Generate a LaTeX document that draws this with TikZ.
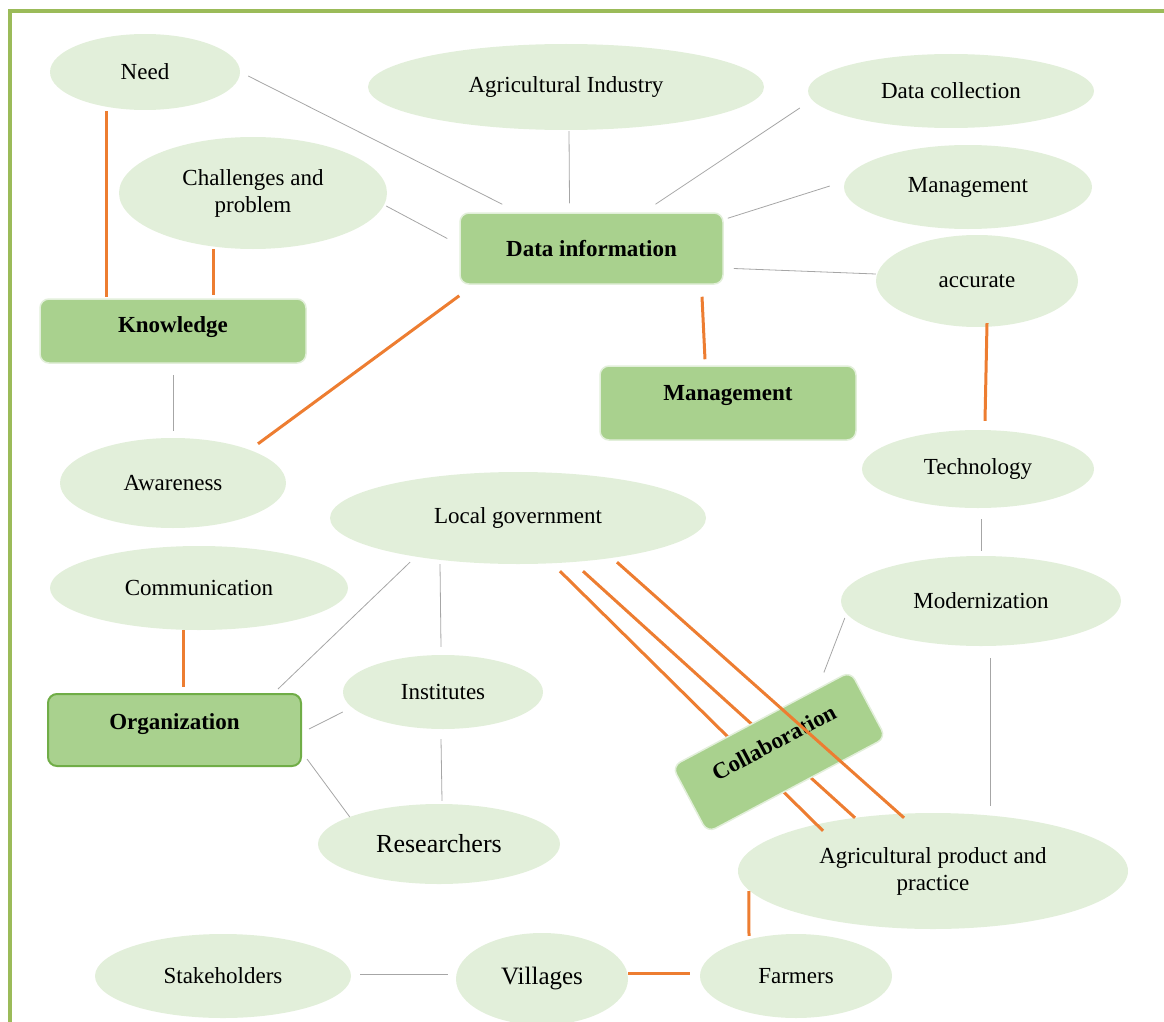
\documentclass[tikz,border=0pt]{standalone}
\usepackage{fontspec}
\setmainfont{Liberation Serif}
\usetikzlibrary{calc, shapes.geometric, positioning}

\definecolor{ellfill}{HTML}{E2EFDA}
\definecolor{boxfill}{HTML}{A9D18E}
\definecolor{boxedge}{HTML}{E2EFDA}
\definecolor{orgedge}{HTML}{70AD47}
\definecolor{linor}{HTML}{ED7D31}
\definecolor{lineg}{HTML}{A6A6A6}
\definecolor{frameg}{HTML}{9BBB59}

\begin{document}
\begin{tikzpicture}[x=1pt, y=-1pt,
    every node/.style={font=\fontsize{23}{27}\selectfont},
    ell/.style={ellipse, fill=ellfill, inner sep=0pt, align=center},
    box/.style={rectangle, rounded corners=9pt, fill=boxfill, draw=boxedge, line width=1.5pt,
                inner sep=0pt, font=\fontsize{23}{27}\selectfont\bfseries},
    lift/.style={text depth=#1},
    gline/.style={draw=lineg, line width=0.8pt},
    oline/.style={draw=linor, line width=3pt}]
    \useasboundingbox (0,0) rectangle (1164,1022);
    \draw[frameg, line width=3.6pt] (10,1022) -- (10,11) -- (1164,11);

    % ellipses
    \node[ell, minimum width=190, minimum height=76] (need) at (145,72) {Need};
    \node[ell, minimum width=396, minimum height=86] (aind) at (566,87) {Agricultural Industry};
    \node[ell, minimum width=286, minimum height=74] (dcoll) at (951,91) {Data collection};
    \node[ell, minimum width=268, minimum height=112] (chal) at (253,193) {Challenges and\\problem};
    \node[ell, minimum width=248, minimum height=84] (mgmte) at (968,187) {Management};
    \node[ell, minimum width=202, minimum height=92] (accur) at (977,281) {accurate};
    \node[ell, minimum width=226, minimum height=90] (aware) at (173,483) {Awareness};
    \node[ell, minimum width=376, minimum height=92] (locgov) at (518,518) {Local government};
    \node[ell, minimum width=232, minimum height=78] (tech) at (978,469) {Technology};
    \node[ell, minimum width=298, minimum height=84] (comm) at (199,588) {Communication};
    \node[ell, minimum width=280, minimum height=90] (modern) at (981,601) {Modernization};
    \node[ell, minimum width=200, minimum height=74] (inst) at (443,692) {Institutes};
    \node[ell, minimum width=242, minimum height=80, font=\fontsize{26}{30}\selectfont] (res) at (439,844) {Researchers};
    \node[ell, minimum width=390, minimum height=116] (apro) at (933,871) {Agricultural product and\\practice};
    \node[ell, minimum width=256, minimum height=84] (stake) at (223,976) {Stakeholders};
    \node[ell, minimum width=172, minimum height=92, font=\fontsize{25}{29}\selectfont] (vill) at (542,979) {Villages};
    \node[ell, minimum width=192, minimum height=84] (farm) at (796,976) {Farmers};

    % boxes
    \node[box, minimum width=263, minimum height=71] (datainfo) at (591.5,248.5) {Data information};
    \node[box, lift=13pt, minimum width=266, minimum height=64] (knowl) at (173,331) {Knowledge};
    \node[box, lift=21pt, minimum width=256, minimum height=74] (mgmtb) at (728,403) {Management};
    \node[box, lift=17pt, draw=orgedge, line width=2pt, minimum width=253, minimum height=72] (org) at (174.5,730) {Organization};

    % grey links
    \draw[gline] ($(need.east)+(8,4)$) -- ($(datainfo.north west)+(43,-8)$);
    \draw[gline] ($(aind.south)+(3,1)$) -- ($(datainfo.north)+(-22,-9)$);
    \draw[gline] ($(dcoll.west)+(-8,17)$) -- ($(datainfo.north)+(64,-8)$);
    \draw[gline] ($(chal.east)+(-1,13)$) -- ($(datainfo.west)+(-12,-10)$);
    \draw[gline] ($(mgmte.west)+(-14,-1)$) -- ($(datainfo.north east)+(4,6)$);
    \draw[gline] ($(accur.west)+(0,-7)$) -- ($(datainfo.east)+(10,20)$);
    \draw[gline] ($(knowl.south)+(0,11)$) -- ($(aware.north)+(0,-7)$);
    \draw[gline] ($(locgov.south)+(-108,-2)$) -- ($(org.north east)+(-24,-4)$);
    \draw[gline] ($(locgov.south)+(-78,0)$) -- ($(inst.north)+(-2,-8)$);
    \draw[gline] ($(inst.west)+(0,20)$) -- ($(org.east)+(7,-1)$);
    \draw[gline] ($(org.south east)+(5,-8)$) -- ($(res.west)+(32,-27)$);
    \draw[gline] ($(inst.south)+(-2,10)$) -- ($(res.north)+(3,-3)$);
    \draw[gline] ($(tech.south)+(3,11)$) -- ($(modern.north)+(0,-5)$);
    \draw[gline] ($(modern.south)+(9,12)$) -- ($(apro.north)+(57,-7)$);
    \draw[gline] ($(stake.east)+(9,-2)$) -- ($(vill.west)+(-8,-5)$);

    % orange links
    \draw[oline] ($(need.south)+(-39,1)$) -- ($(knowl.north)+(-67,-1)$);
    \draw[oline] ($(chal.south)+(-40,0)$) -- ($(knowl.north)+(40,-3)$);
    \draw[oline] ($(datainfo.south west)+(0,11)$) -- ($(aware.north)+(85,6)$);
    \draw[oline] ($(datainfo.south)+(110.5,12)$) -- ($(mgmtb.north)+(-23,-6)$);
    \draw[oline] ($(accur.south)+(10,-4)$) -- ($(tech.north)+(7,-9)$);
    \draw[oline] ($(comm.south)+(-16,0)$) -- ($(org.north)+(8.5,-6)$);
    \draw[oline] ($(apro.west)+(11,20)$) -- ($(farm.north)+(-47,2)$);
    \draw[oline] ($(vill.east)+(0,-6)$) -- ($(farm.west)+(-10,-3)$);
    \draw[oline] ($(locgov.south)+(42,7)$) -- ($(apro.north)+(-110,18)$);
    \draw[oline] ($(locgov.south)+(65,7)$) -- ($(apro.north)+(-78,5)$);

    % collaboration box on top of two links
    \node[box, lift=22pt, rotate=28, minimum width=202, minimum height=75] (collab) at (779,752) {Collaboration};
    \draw[oline] ($(locgov.south)+(99,-2)$) -- ($(apro.north)+(-29,5)$);
    \draw[gline] ($(modern.west)+(4,17)$) -- ($(collab.north east)+(-27,2)$);
\end{tikzpicture}
\end{document}
